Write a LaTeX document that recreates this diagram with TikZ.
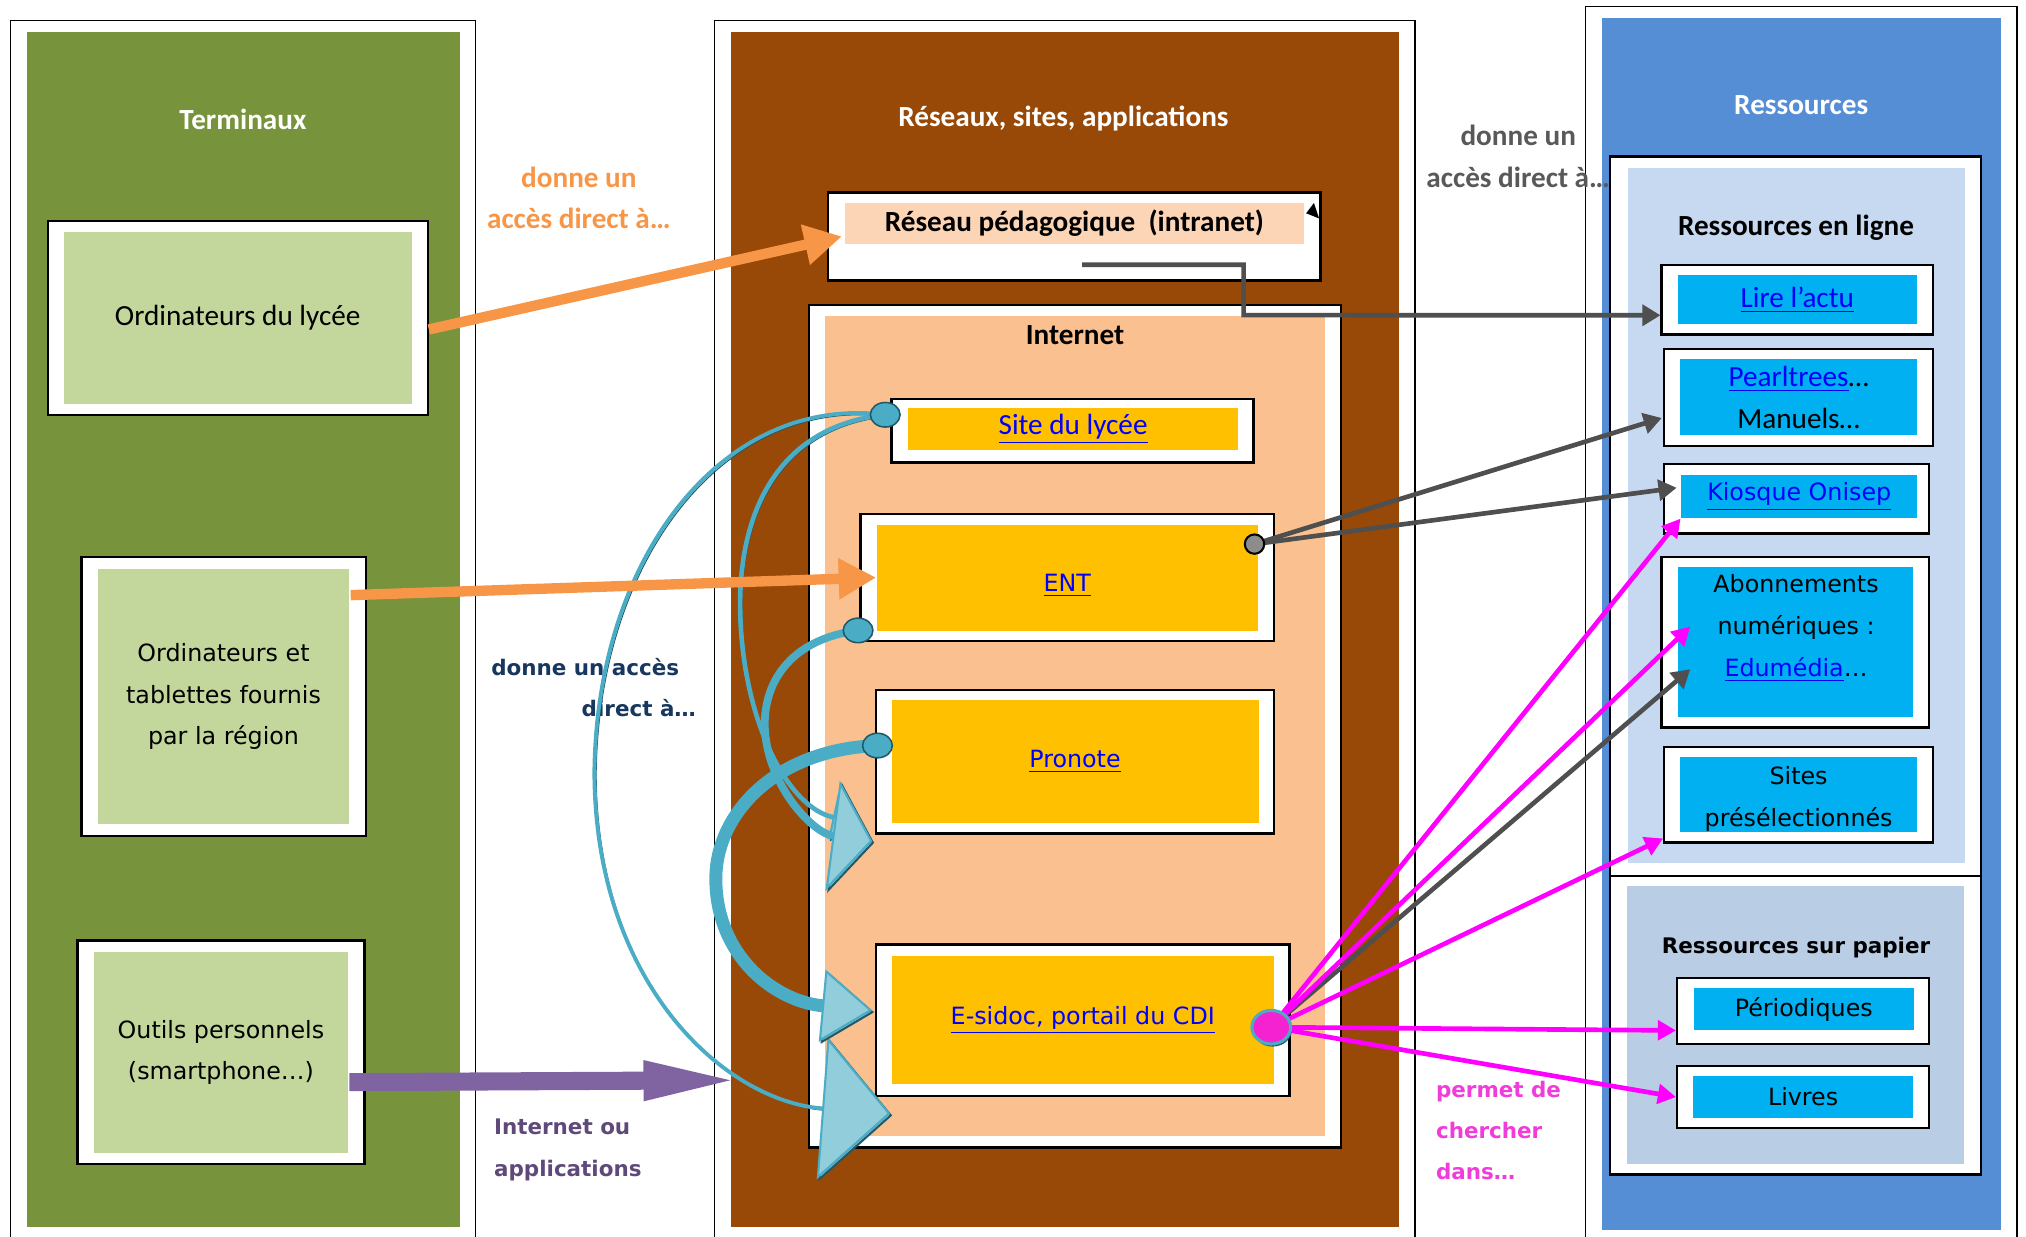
\documentclass[tikz,border=0pt]{standalone}
\usepackage{fontspec}
\setmainfont{Carlito}
\newfontfamily\verdana{DejaVu Sans}
\usetikzlibrary{arrows.meta, calc, shapes.geometric}

\definecolor{vert}{HTML}{77933C}
\definecolor{vertclair}{HTML}{C3D69B}
\definecolor{brun}{HTML}{984807}
\definecolor{pecheclair}{HTML}{FBD5B5}
\definecolor{peche}{HTML}{FAC090}
\definecolor{jaune}{HTML}{FFC000}
\definecolor{bleucol}{HTML}{558ED5}
\definecolor{bleuclair}{HTML}{C6D9F1}
\definecolor{bleupapier}{HTML}{B9CDE5}
\definecolor{turq}{HTML}{00B0F0}
\definecolor{orangef}{HTML}{F79646}
\definecolor{grislab}{HTML}{595959}
\definecolor{grisf}{HTML}{4F4F4F}
\definecolor{marine}{HTML}{17375E}
\definecolor{violetlab}{HTML}{5F497A}
\definecolor{violetf}{HTML}{8064A2}
\definecolor{violetsombre}{HTML}{403152}
\definecolor{rose}{HTML}{FF00FF}
\definecolor{roselab}{HTML}{F03CD8}
\definecolor{rosepoint}{HTML}{F522D2}
\definecolor{bleuarc}{HTML}{4BACC6}
\definecolor{bleuombre}{HTML}{215968}
\definecolor{bleutete}{HTML}{92CDDC}
\definecolor{lien}{HTML}{0000FF}

\begin{document}
\begin{tikzpicture}[x=0.5pt, y=-0.5pt,
    cal/.style={font=\fontsize{11.3}{16}\selectfont},
    calb/.style={font=\bfseries\fontsize{11.3}{16}\selectfont},
    ver/.style={font=\verdana\fontsize{9.2}{16.2}\selectfont},
    verb/.style={font=\verdana\bfseries\fontsize{8.3}{16}\selectfont, inner sep=0pt},
    colonne/.style={draw=black, line width=0.5pt, fill=white},
    cadre/.style={draw=black, line width=0.9pt, fill=white, inner sep=0pt},
    fond/.style={fill=#1, inner sep=0pt, align=center},
    fleche orange/.style={orangef, line width=4pt, -{Triangle[length=14.5pt, width=15pt]}},
    fleche grise/.style={grisf, line width=1.8pt, -{Triangle[length=7pt, width=8pt]}},
    fleche rose/.style={rose, line width=1.8pt, -{Triangle[length=7pt, width=7.5pt]}},
    fleche violette/.style={violetf, line width=7pt, -{Triangle[length=39pt, width=13.5pt]},
        preaction={draw=violetsombre, transform canvas={shift={(0.4pt,-1.2pt)}}}},
    arc bleu/.style={draw=bleuarc, line width=#1,
        preaction={draw=bleuombre, transform canvas={shift={(0.7pt,-0.7pt)}}}},
    boule/.style={ellipse, fill=bleuarc, draw=bleuombre, line width=0.6pt, minimum width=11.5pt, minimum height=9.5pt, inner sep=0pt},
  ]
  \useasboundingbox (0,0) rectangle (1568,957);
  \clip (0,0) rectangle (1568,957);

  % les trois colonnes
  \draw[colonne] (8,16) rectangle (368,975);
  \fill[vert] (21,25) rectangle (356,950);
  \draw[colonne] (553,16) rectangle (1095,975);
  \fill[brun] (566,25) rectangle (1083,950);
  \draw[colonne] (1227,5) rectangle (1561,975);
  \fill[bleucol] (1240,14) rectangle (1549,952);

  \node[calb, text=white] (terminaux) at (188,92) {Terminaux};
  \node[calb, text=white] (reseaux) at (823,92) {Réseaux, sites, applications};
  \node[calb, text=white] (ressources) at (1394,81) {Ressources};

  % terminaux
  \node[cadre, minimum width=147pt, minimum height=75pt] (lycee) at (184,246) {};
  \node[fond=vertclair, cal, minimum width=134.5pt, minimum height=66.5pt] (lyceein) at (lycee.center) {Ordinateurs du lycée};
  \node[cadre, minimum width=110pt, minimum height=108pt] (tablette) at (173,539) {};
  \node[fond=vertclair, ver, minimum width=97pt, minimum height=99pt] (tablettein) at (tablette.center) {Ordinateurs et\\tablettes fournis\\par la région};
  \node[cadre, minimum width=111pt, minimum height=86.5pt] (outils) at (171,814.5) {};
  \node[fond=vertclair, ver, minimum width=98pt, minimum height=78pt] (outilsin) at (outils.center) {Outils personnels\\(smartphone…)};

  % reseaux, sites, applications
  \node[cadre, minimum width=190.5pt, minimum height=34pt] (reseau) at (831.5,183) {};
  \node[fond=pecheclair, calb, minimum width=177.5pt, minimum height=16pt] (reseauin) at (831.5,173) {Réseau pédagogique\ \ (intranet)};
  \fill (reseau.north east) ++(-6,9) -- ++(-6,8) -- ++(10,4) -- cycle;
  \node[cadre, minimum width=206pt, minimum height=326pt] (internet) at (832,562) {};
  \node[fond=peche, minimum width=193.5pt, minimum height=317.5pt] (internetin) at (internet.center) {};
  \node[calb] (internettitre) at (832,259) {Internet};
  \node[cadre, minimum width=140pt, minimum height=24.5pt] (site) at (830,333.5) {};
  \node[fond=jaune, cal, minimum width=127.5pt, minimum height=16pt] (sitein) at (830.5,332) {\textcolor{lien}{\underline{Site du lycée}}};
  \node[cadre, minimum width=160pt, minimum height=49pt] (ent) at (826,447) {};
  \node[fond=jaune, minimum width=147.5pt, minimum height=41pt] (entin) at (ent.center) {};
  \node[ver] (enttxt) at (826,453) {\textcolor{lien}{\underline{ENT}}};
  \node[cadre, minimum width=154pt, minimum height=55.5pt] (pronote) at (832,589.5) {};
  \node[fond=jaune, ver, minimum width=142pt, minimum height=47.5pt] (pronotein) at (pronote.center) {\textcolor{lien}{\underline{Pronote}}};
  \node[cadre, minimum width=160pt, minimum height=58.5pt] (esidoc) at (838,789.5) {};
  \node[fond=jaune, ver, minimum width=148pt, minimum height=49.5pt] (esidocin) at (esidoc.center) {\textcolor{lien}{\underline{E-sidoc, portail du CDI}}};

  % ressources
  \node[cadre, minimum width=143.5pt, minimum height=278.5pt] (enligne) at (1389.5,399.5) {};
  \node[fond=bleuclair, minimum width=130.5pt, minimum height=269pt] (enlignein) at (1390.5,399) {};
  \node[calb] (enlignetitre) at (1390,176) {Ressources en ligne};
  \node[cadre, minimum width=143.5pt, minimum height=115.5pt] (papier) at (1389.5,793.5) {};
  \node[fond=bleupapier, minimum width=130.5pt, minimum height=107.5pt] (papierin) at (papier.center) {};
  \node[verb] (papiertitre) at (1390,733) {Ressources sur papier};
  \node[cadre, minimum width=105pt, minimum height=27pt] (lire) at (1391,232) {};
  \node[fond=turq, cal, minimum width=92.5pt, minimum height=19pt] (lirein) at (lire.center) {\textcolor{lien}{\underline{Lire l’actu}}};
  \node[cadre, minimum width=104pt, minimum height=37.5pt] (pearl) at (1392,307.5) {};
  \node[fond=turq, cal, minimum width=91.5pt, minimum height=29.5pt] (pearlin) at (pearl.center) {\textcolor{lien}{\underline{Pearltrees}}…\\Manuels…};
  \node[cadre, minimum width=102.5pt, minimum height=27pt] (kiosque) at (1390.5,386) {};
  \node[fond=turq, ver, minimum width=91.5pt, minimum height=16.5pt] (kiosquein) at (1392.5,384.5) {\textcolor{lien}{\underline{Kiosque Onisep}}};
  \node[cadre, minimum width=103.5pt, minimum height=66pt] (abon) at (1389.5,497) {};
  \node[fond=turq, minimum width=91pt, minimum height=58pt] (abonin) at (abon.center) {};
  \node[ver, align=center] (abontxt) at (1390,486) {Abonnements\\numériques :\\\textcolor{lien}{\underline{Edumédia}}…};
  \node[cadre, minimum width=104pt, minimum height=37pt] (sites) at (1392,615) {};
  \node[fond=turq, minimum width=91.5pt, minimum height=29pt] (sitesin) at (sites.center) {};
  \node[ver, align=center] (sitestxt) at (1392,618) {Sites\\présélectionnés};
  \node[cadre, minimum width=97.5pt, minimum height=25.5pt] (period) at (1395.5,782.5) {};
  \node[fond=turq, ver, minimum width=85pt, minimum height=16pt] (periodin) at (1396,781) {Périodiques};
  \node[cadre, minimum width=97.5pt, minimum height=24pt] (livres) at (1395.5,849) {};
  \node[fond=turq, ver, minimum width=85pt, minimum height=16pt] (livresin) at (livres.center) {Livres};

  % legendes
  \node[calb, text=orangef, align=center] (lblorange) at (448,153) {donne un\\accès direct à…};
  \node[calb, text=grislab, align=center] (lblgris) at (1175,121) {donne un\\accès direct à…};
  \node[verb, text=marine, align=right, anchor=east] (lblmarine) at (539,532) {donne un accès\hspace*{6.5pt}\\direct à…};
  \node[verb, text=violetlab, align=left, anchor=west] (lblviolet) at (382,890) {Internet ou\\applications};
  \node[verb, text=roselab, align=left, anchor=west] (lblrose) at (1111,875) {permet de\\chercher\\dans…};

  % fleches bleues courbes
  \coordinate (bs) at ($(site.west)+(-4,-12.5)$);
  \coordinate (be) at ($(ent.south west)+(-1,-9)$);
  \coordinate (bp) at ($(pronote.west)+(2,-12.5)$);
  \coordinate (pointeA) at ($(esidoc.south west)+(12,13)$);
  \coordinate (pointeB) at ($(pronote.south west)+(-12,-9)$);
  \coordinate (pointeC) at ($(pronote.south west)+(-2,5)$);
  \coordinate (pointeD) at ($(esidoc.west)+(-2,-7.5)$);
  \draw[arc bleu=1.5pt, -{Triangle[length=26.5pt, width=55pt, fill=bleutete, line width=0.8pt]}]
    (bs) .. controls (560,305) and (462,430) .. (460,597) .. controls (460,760) and (560,852) .. (pointeA);
  \draw[arc bleu=1.8pt, -{Triangle[length=10.5pt, width=17.5pt, fill=bleutete, line width=0.8pt]}]
    (bs) .. controls (600,330) and (570,400) .. (573,478) .. controls (576,560) and (610,625) .. (pointeB);
  \draw[arc bleu=3pt, -{Triangle[length=15.5pt, width=43pt, fill=bleutete, line width=0.8pt]}]
    (be) .. controls (610,495) and (590,530) .. (592,565) .. controls (595,610) and (630,645) .. (pointeC);
  \draw[arc bleu=5pt, -{Triangle[length=19.5pt, width=28pt, fill=bleutete, line width=0.8pt]}]
    (bp) .. controls (600,580) and (554,630) .. (554,680) .. controls (554,740) and (600,775) .. (pointeD);
  \node[boule] (boulesite) at (bs) {};
  \node[boule] (bouleent) at (be) {};
  \node[boule] (boulepronote) at (bp) {};

  % fleches droites
  \draw[fleche orange] ($(lycee.east)+(0,9)$) -- ($(reseauin.west)+(-2,10)$);
  \draw[fleche orange] ($(tablettein.north east)+(1,21)$) -- (entin.west);
  \coordinate (finviolet) at (576,836);
  \draw[fleche violette] ($(outilsin.east)+(1,23)$) -- (finviolet);

  \coordinate (pg) at ($(ent.north east)+(-16,24)$);
  \coordinate (pe) at ($(esidoc.east)+(-15,5.5)$);
  \draw[fleche grise] ($(reseau.south)+(6,-13)$) -| ($(reseau.south)+(131,26)$) -- ($(lire.west)+(0,12)$);
  \draw[fleche grise] (pg) -- ($(pearl.west)+(-1,16)$);
  \draw[fleche grise] (pg) -- ($(kiosquein.west)+(-3,-7)$);
  \draw[fleche grise] (pe) -- ($(abonin.west)+(10,21)$);
  \draw[fleche rose] (pe) -- (kiosquein.south west);
  \draw[fleche rose] (pe) -- ($(abonin.west)+(10,-12)$);
  \draw[fleche rose] (pe) -- ($(sites.south west)+(0,-4)$);
  \draw[fleche rose] (pe) -- ($(period.west)+(0,15)$);
  \draw[fleche rose] (pe) -- (livres.west);
  \node[circle, draw=black, line width=0.8pt, fill=gray!90, minimum size=7.5pt, inner sep=0pt] (pointgris) at (pg) {};
  \node[ellipse, draw=bleuarc, line width=1.2pt, fill=rosepoint, minimum width=15pt, minimum height=13pt, inner sep=0pt,
    preaction={fill=bleuombre, transform canvas={shift={(0.5pt,-1pt)}}}] (pointrose) at (pe) {};
\end{tikzpicture}
\end{document}
